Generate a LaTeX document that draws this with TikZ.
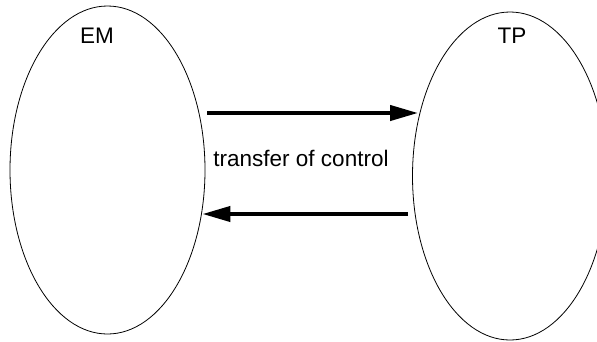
\documentclass[tikz,border=0pt]{standalone}
\usepackage{fontspec}
\setmainfont{Liberation Sans}
\usetikzlibrary{shapes.geometric,arrows.meta}
\begin{document}
\begin{tikzpicture}[x=1pt,y=-1pt,
  blob/.style={draw, ellipse, line width=0.8pt, minimum width=195pt, minimum height=328pt, inner sep=0pt},
  lbl/.style={font=\fontsize{22.5}{27}\selectfont, inner sep=0pt},
  arr/.style={line width=4pt, -{Triangle[length=28pt,width=15pt]}}]
\useasboundingbox (0,0) rectangle (597,341);
\node[blob] (EM) at (107.5,170) {};
\node[blob] (TP) at (510,176) {};
\node[lbl] (emt) at (97,36) {EM};
\node[lbl] (tpt) at (512,36) {TP};
\node[lbl] (toc) at (301,158) {transfer of control};
\draw[arr] ([shift={(2,-57)}]EM.east) -- ([shift={(6,-63)}]TP.west);
\draw[arr] ([shift={(-4,38)}]TP.west) -- ([shift={(-3,44)}]EM.east);
\end{tikzpicture}
\end{document}
